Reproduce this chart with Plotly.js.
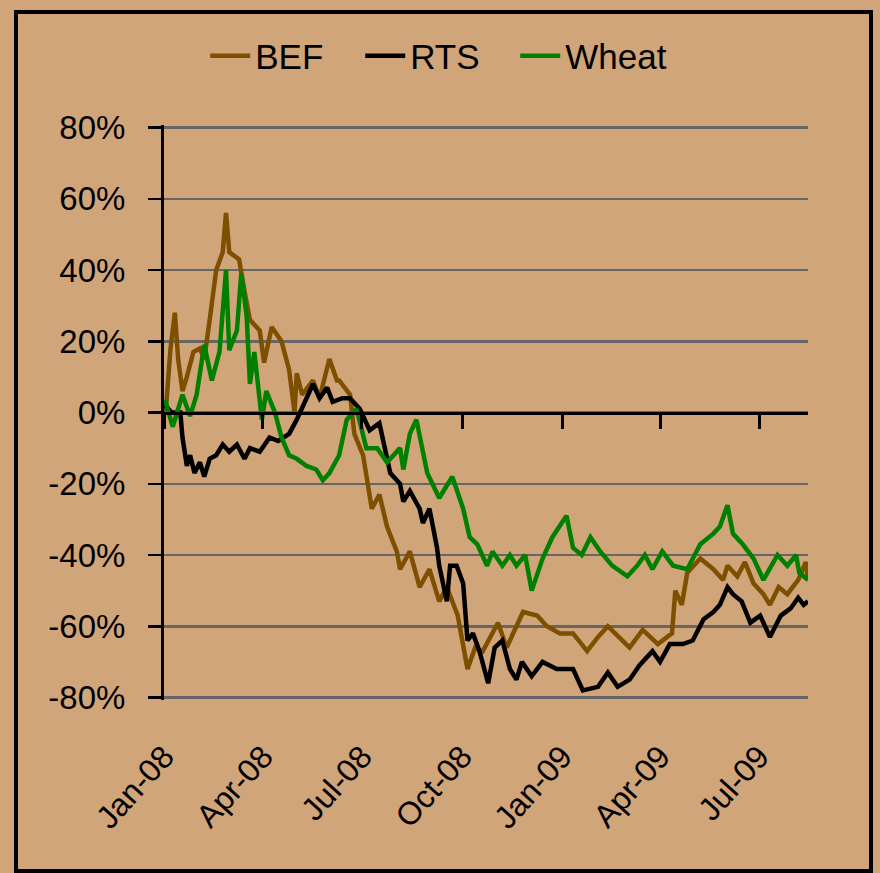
<!DOCTYPE html>
<html>
<head>
<meta charset="utf-8">
<script src="https://cdn.plot.ly/plotly-3.0.1.min.js"></script>
<style>
  html, body { margin: 0; padding: 0; background: #D1A57A; }
  #wrap { position: relative; width: 880px; height: 873px; background: #D1A57A; overflow: hidden; }
  #chart { position: absolute; left: 0; top: 0; width: 880px; height: 873px; }
  #frame { position: absolute; left: 14px; top: 10px; width: 851px; height: 855px; border: 4px solid #000; pointer-events: none; }
</style>
</head>
<body>
<div id="wrap">
  <div id="chart"></div>
  <div id="frame"></div>
</div>
<script>
// ---- data ----
const seriesNames = ["BEF", "RTS", "Wheat"];
const tickDates = ["2008-01-01","2008-04-01","2008-07-01","2008-10-01","2009-01-01","2009-04-01","2009-07-01"];
const tickLabels = ["Jan-08","Apr-08","Jul-08","Oct-08","Jan-09","Apr-09","Jul-09"];
const yTicks = [-0.8,-0.6,-0.4,-0.2,0,0.2,0.4,0.6,0.8];
const yTickLabels = ["-80%","-60%","-40%","-20%","0%","20%","40%","60%","80%"];

const befDates = ["2008-01-02","2008-01-03","2008-01-07","2008-01-11","2008-01-14","2008-01-18","2008-01-22","2008-01-28","2008-02-03","2008-02-07","2008-02-12","2008-02-18","2008-02-24","2008-02-27","2008-03-01","2008-03-05","2008-03-10","2008-03-15","2008-03-20","2008-03-29","2008-04-02","2008-04-09","2008-04-18","2008-04-25","2008-04-30","2008-05-02","2008-05-07","2008-05-17","2008-05-23","2008-06-01","2008-06-08","2008-06-10","2008-06-20","2008-06-24","2008-07-02","2008-07-10","2008-07-17","2008-07-24","2008-08-02","2008-08-05","2008-08-14","2008-08-23","2008-09-01","2008-09-10","2008-09-17","2008-09-27","2008-10-06","2008-10-13","2008-10-20","2008-11-03","2008-11-11","2008-11-26","2008-12-09","2008-12-18","2008-12-30","2009-01-11","2009-01-24","2009-02-03","2009-02-12","2009-03-04","2009-03-16","2009-03-30","2009-04-12","2009-04-15","2009-04-21","2009-04-26","2009-05-08","2009-05-20","2009-05-29","2009-06-02","2009-06-11","2009-06-18","2009-06-26","2009-07-05","2009-07-11","2009-07-19","2009-07-27","2009-08-06","2009-08-13","2009-08-15"];
const befValues = [0.00,0.02,0.18,0.28,0.15,0.06,0.10,0.17,0.18,0.15,0.26,0.40,0.45,0.56,0.45,0.44,0.43,0.34,0.26,0.23,0.14,0.24,0.20,0.12,0.00,0.11,0.05,0.09,0.04,0.15,0.09,0.09,0.05,-0.06,-0.12,-0.27,-0.23,-0.32,-0.39,-0.44,-0.39,-0.49,-0.44,-0.53,-0.49,-0.57,-0.72,-0.66,-0.67,-0.59,-0.66,-0.56,-0.57,-0.60,-0.62,-0.62,-0.67,-0.63,-0.60,-0.66,-0.61,-0.65,-0.62,-0.50,-0.54,-0.45,-0.41,-0.44,-0.47,-0.43,-0.46,-0.42,-0.48,-0.51,-0.54,-0.49,-0.51,-0.47,-0.42,-0.47];

const rtsDates = ["2008-01-02","2008-01-08","2008-01-16","2008-01-18","2008-01-22","2008-01-25","2008-01-29","2008-02-03","2008-02-07","2008-02-12","2008-02-18","2008-02-24","2008-03-01","2008-03-08","2008-03-15","2008-03-20","2008-03-29","2008-04-07","2008-04-15","2008-04-25","2008-05-02","2008-05-11","2008-05-17","2008-05-23","2008-05-30","2008-06-04","2008-06-13","2008-06-20","2008-06-29","2008-07-08","2008-07-17","2008-07-27","2008-08-05","2008-08-08","2008-08-14","2008-08-23","2008-08-26","2008-09-01","2008-09-08","2008-09-10","2008-09-17","2008-09-20","2008-09-26","2008-10-02","2008-10-06","2008-10-11","2008-10-17","2008-10-25","2008-10-31","2008-11-07","2008-11-14","2008-11-20","2008-11-25","2008-12-04","2008-12-14","2008-12-27","2009-01-11","2009-01-20","2009-02-03","2009-02-12","2009-02-21","2009-03-04","2009-03-13","2009-03-25","2009-04-01","2009-04-10","2009-04-22","2009-05-01","2009-05-11","2009-05-20","2009-05-26","2009-06-02","2009-06-07","2009-06-15","2009-06-23","2009-07-02","2009-07-11","2009-07-21","2009-07-30","2009-08-06","2009-08-11","2009-08-15"];
const rtsValues = [0.02,0.00,0.00,-0.07,-0.15,-0.12,-0.17,-0.14,-0.18,-0.13,-0.12,-0.09,-0.11,-0.09,-0.13,-0.10,-0.11,-0.07,-0.08,-0.06,-0.02,0.04,0.08,0.04,0.07,0.03,0.04,0.04,0.01,-0.05,-0.03,-0.17,-0.20,-0.25,-0.22,-0.27,-0.31,-0.27,-0.38,-0.43,-0.53,-0.43,-0.43,-0.48,-0.64,-0.62,-0.67,-0.76,-0.66,-0.64,-0.72,-0.75,-0.70,-0.74,-0.70,-0.72,-0.72,-0.78,-0.77,-0.73,-0.77,-0.75,-0.71,-0.67,-0.70,-0.65,-0.65,-0.64,-0.58,-0.56,-0.54,-0.49,-0.51,-0.53,-0.59,-0.57,-0.63,-0.57,-0.55,-0.52,-0.54,-0.53];

const wheatDates = ["2008-01-02","2008-01-09","2008-01-18","2008-01-25","2008-01-31","2008-02-07","2008-02-14","2008-02-21","2008-02-27","2008-03-01","2008-03-08","2008-03-12","2008-03-17","2008-03-20","2008-03-24","2008-03-31","2008-04-04","2008-04-12","2008-04-18","2008-04-25","2008-05-02","2008-05-11","2008-05-20","2008-05-26","2008-06-01","2008-06-10","2008-06-17","2008-06-26","2008-07-05","2008-07-15","2008-07-24","2008-08-05","2008-08-08","2008-08-14","2008-08-20","2008-08-30","2008-09-10","2008-09-22","2008-10-02","2008-10-08","2008-10-15","2008-10-24","2008-10-29","2008-11-07","2008-11-14","2008-11-20","2008-11-28","2008-12-04","2008-12-14","2008-12-23","2009-01-05","2009-01-11","2009-01-19","2009-01-27","2009-02-05","2009-02-16","2009-03-02","2009-03-11","2009-03-18","2009-03-25","2009-04-03","2009-04-13","2009-04-26","2009-05-03","2009-05-08","2009-05-20","2009-05-26","2009-06-02","2009-06-07","2009-06-16","2009-06-26","2009-07-05","2009-07-18","2009-07-27","2009-08-04","2009-08-07","2009-08-15"];
const wheatValues = [0.035,-0.04,0.05,-0.01,0.05,0.19,0.09,0.17,0.40,0.175,0.23,0.39,0.27,0.08,0.17,-0.02,0.06,0.00,-0.07,-0.12,-0.13,-0.15,-0.16,-0.19,-0.17,-0.12,-0.02,0.01,-0.10,-0.10,-0.14,-0.10,-0.16,-0.06,-0.02,-0.17,-0.24,-0.18,-0.27,-0.35,-0.37,-0.43,-0.39,-0.43,-0.40,-0.43,-0.40,-0.50,-0.41,-0.35,-0.29,-0.38,-0.40,-0.35,-0.39,-0.43,-0.46,-0.43,-0.40,-0.44,-0.39,-0.43,-0.44,-0.40,-0.37,-0.34,-0.32,-0.26,-0.34,-0.37,-0.41,-0.47,-0.40,-0.43,-0.40,-0.45,-0.47];

const xRange = ["2008-01-01", "2009-08-15"];
const yRange = [-0.807, 0.807];

// ---- styling ----
const FONT = "'Liberation Sans', Arial, Helvetica, sans-serif";
const BG = "#D1A57A";

const traces = [
  { name: seriesNames[0], x: befDates, y: befValues, type: "scatter", mode: "lines",
    line: { color: "#7F4F00", width: 4.5 }, xaxis: "x", yaxis: "y" },
  { name: seriesNames[1], x: rtsDates, y: rtsValues, type: "scatter", mode: "lines",
    line: { color: "#000000", width: 4.5 }, xaxis: "x", yaxis: "y" },
  { name: seriesNames[2], x: wheatDates, y: wheatValues, type: "scatter", mode: "lines",
    line: { color: "#008000", width: 4.5 }, xaxis: "x2", yaxis: "y" }
];

const layout = {
  width: 880, height: 873,
  paper_bgcolor: BG, plot_bgcolor: BG,
  margin: { l: 164, r: 72, t: 125, b: 173, pad: 0 },
  font: { family: FONT, size: 33, color: "#000" },
  showlegend: true,
  legend: {
    orientation: "h", x: 0.064, y: 1.12, xanchor: "left", yanchor: "middle",
    bgcolor: "rgba(0,0,0,0)", font: { family: FONT, size: 35, color: "#000" },
    itemwidth: 40, entrywidth: 100, entrywidthmode: "pixels"
  },
  xaxis: {
    type: "date", range: xRange, domain: [0, 1], anchor: "y",
    showgrid: false, zeroline: false, showline: false,
    tickmode: "array", tickvals: tickDates, ticktext: tickLabels,
    ticks: "outside", ticklen: 24, tickcolor: "rgba(0,0,0,0)",
    tickangle: -48, tickfont: { family: FONT, size: 32, color: "#000" }
  },
  xaxis2: {
    type: "date", range: xRange, overlaying: "x", matches: "x", anchor: "free", position: 0.5,
    showgrid: false, zeroline: false, showline: true, linecolor: "#000", linewidth: 3,
    tickmode: "array", tickvals: tickDates,
    ticks: "outside", ticklen: 14, tickwidth: 3, tickcolor: "#000",
    showticklabels: false
  },
  yaxis: {
    range: yRange, domain: [0, 1],
    tickmode: "array", tickvals: yTicks, ticktext: yTickLabels,
    showgrid: true, gridcolor: "#666666", gridwidth: 2.5,
    zeroline: false, showline: true, linecolor: "#000", linewidth: 3,
    ticks: "outside", ticklen: 13, tickwidth: 2.5, tickcolor: "#000",
    ticklabelstandoff: 16,
    tickfont: { family: FONT, size: 33, color: "#000" }
  }
};

Plotly.newPlot("chart", traces, layout, { staticPlot: true, displayModeBar: false });
</script>
</body>
</html>
